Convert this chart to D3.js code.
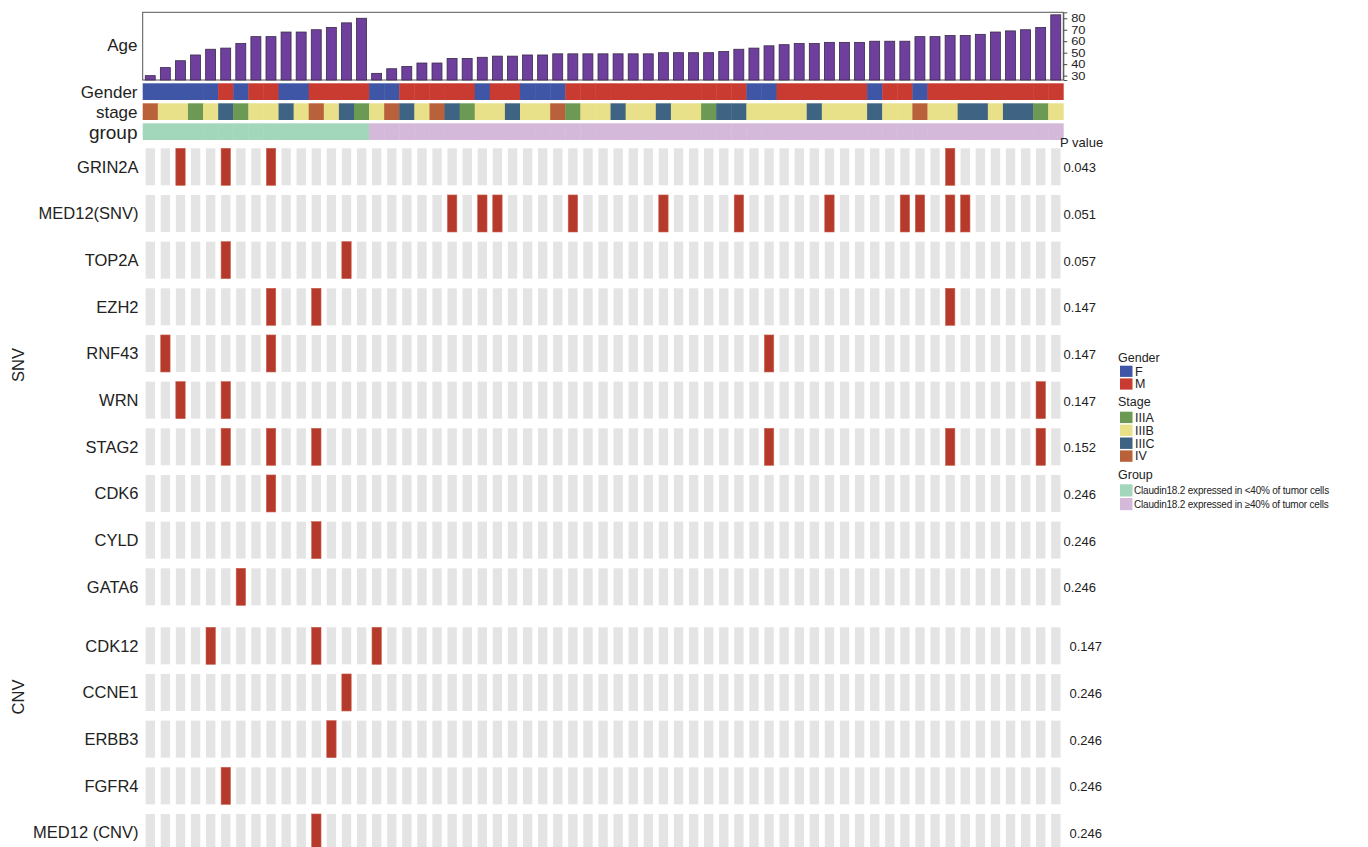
<!DOCTYPE html>
<html>
<head>
<meta charset="utf-8">
<script src="https://cdn.jsdelivr.net/npm/d3@7"></script>
<style>
  body { margin: 0; background: #fff; }
  svg { display: block; font-family: "Liberation Sans", Arial, Helvetica, sans-serif; }
</style>
</head>
<body>
<div id="chart"></div>
<script>
// oncoprint: Claudin18.2 groups vs SNV / CNV

// ---- data ----
var ages = [30, 37, 43, 48, 53, 54, 58, 64, 64, 68, 68, 70, 72, 76, 80,
            32, 36, 38, 41, 41, 45, 45, 46, 47, 47, 48, 48, 49, 49, 49,
            49, 49, 49, 49, 50, 50, 50, 50, 51, 53, 54, 56, 57, 58, 58,
            59, 59, 59, 60, 60, 60, 64, 64, 65, 65, 66, 68, 69, 70, 72, 83];

// one letter per patient
var genders = ("FFFFFMFMMFFMMMM" +
               "FFMMMMMFMMFFF" + "MMMMMMMMMMMM" + "FFMMMMMMFMMF" + "MMMMMMMMM").split("");

var stages = ["IV", "IIIB", "IIIB", "IIIA", "IIIB", "IIIC", "IIIA", "IIIB", "IIIB", "IIIC",
              "IIIB", "IV", "IIIB", "IIIC", "IIIA",
              "IIIB", "IV", "IIIC", "IIIB", "IV", "IIIC", "IIIA", "IIIB", "IIIB", "IIIC",
              "IIIB", "IIIB", "IV", "IIIA", "IIIB", "IIIB", "IIIC", "IIIB", "IIIB", "IIIC",
              "IIIB", "IIIB", "IIIA", "IIIC", "IIIC", "IIIB", "IIIB", "IIIB", "IIIB", "IIIC",
              "IIIB", "IIIB", "IIIB", "IIIC", "IIIB", "IIIB", "IV", "IIIB", "IIIB", "IIIC",
              "IIIC", "IIIB", "IIIC", "IIIC", "IIIA", "IIIB"];

var groupSizes = [15, 46];   // <40% , >=40%

var snvGenes = ["GRIN2A", "MED12(SNV)", "TOP2A", "EZH2", "RNF43", "WRN", "STAG2", "CDK6", "CYLD", "GATA6"];
var snvP     = ["0.043", "0.051", "0.057", "0.147", "0.147", "0.147", "0.152", "0.246", "0.246", "0.246"];
var snvHits  = [[3, 6, 9, 54],
                [21, 23, 24, 29, 35, 40, 46, 51, 52, 54, 55],
                [6, 14],
                [9, 12, 54],
                [2, 9, 42],
                [3, 6, 60],
                [6, 9, 12, 42, 54, 60],
                [9],
                [12],
                [7]];

var cnvGenes = ["CDK12", "CCNE1", "ERBB3", "FGFR4", "MED12 (CNV)"];
var cnvP     = ["0.147", "0.246", "0.246", "0.246", "0.246"];
var cnvHits  = [[5, 12, 16], [14], [13], [6], [12]];

var ageTicks = [30, 40, 50, 60, 70, 80];

var genderLabels = ["F", "M"];
var stageLabels = ["IIIA", "IIIB", "IIIC", "IV"];
var groupLabels = ["Claudin18.2 expressed in <40% of tumor cells",
                   "Claudin18.2 expressed in \u226540% of tumor cells"];

// ---- colours ----
var genderColor = d3.scaleOrdinal().domain(genderLabels).range(["#3f56a6", "#c93a30"]);
var stageColor = d3.scaleOrdinal().domain(stageLabels).range(["#6c9a55", "#e9e08a", "#3f6382", "#b9613a"]);
var groupColor = d3.scaleOrdinal().domain(groupLabels).range(["#a2d7bb", "#d4b9db"]);

var width = 1368, height = 847;

var samples = ages.map(function(d, i) { return "S" + (i + 1); });
var groups = [];
groupSizes.forEach(function(n, gi) { for (var k = 0; k < n; k++) groups.push(groupLabels[gi]); });

var svg = d3.select("#chart").append("svg")
    .attr("width", width)
    .attr("height", height);

/* scales */
var x = d3.scaleBand().domain(samples).range([142.7, 1063.3]);
var bw = x.bandwidth();
var yAge = d3.scaleLinear().domain([26.2, 85.2]).range([80, 12.3]);

var ySnv = d3.scaleBand().domain(snvGenes).range([148.3, 605.3]).paddingInner(0.207);
var yCnv = d3.scaleBand().domain(cnvGenes).range([627.3, 851]).paddingInner(0.207);

/* Age barplot */
svg.append("rect")
    .attr("x", x.range()[0]).attr("y", 12.3)
    .attr("width", x.range()[1] - x.range()[0]).attr("height", 80 - 12.3)
    .attr("fill", "none").attr("stroke", "#555").attr("stroke-width", 1);

svg.append("g").selectAll("rect")
    .data(ages)
    .enter().append("rect")
    .attr("x", function(d, i) { return x(samples[i]) + bw * 0.17; })
    .attr("y", function(d) { return yAge(d); })
    .attr("width", bw * 0.66)
    .attr("height", function(d) { return yAge.range()[0] - yAge(d); })
    .attr("fill", "#6f3f9e")
    .attr("stroke", "#3a2a48")
    .attr("stroke-width", 0.8);

var ageAxis = svg.append("g")
    .attr("transform", "translate(" + x.range()[1] + ",0)")
    .call(d3.axisRight(yAge).tickValues(ageTicks).tickSize(4).tickPadding(3));
ageAxis.select(".domain").attr("stroke", "#555");
ageAxis.selectAll("line").attr("stroke", "#444");
ageAxis.selectAll("text").attr("font-size", 11.5).attr("fill", "#222")
    .attr("font-family", "'Liberation Sans', Arial, sans-serif")
    .attr("transform", "scale(1.12,1)");

/* annotation tracks */
function track(values, color, y0, h) {
    svg.append("g").selectAll("rect")
        .data(values)
        .enter().append("rect")
        .attr("x", function(d, i) { return x(samples[i]); })
        .attr("y", y0)
        .attr("width", bw + 0.4)
        .attr("height", h)
        .attr("fill", function(d) { return color(d); });
}
track(genders, genderColor, 83.3, 16.7);
track(stages, stageColor, 103.3, 16.7);
track(groups, groupColor, 123.3, 16.7);

var annoLabels = [["Age", 45, 17], ["Gender", 92, 17], ["stage", 112, 17], ["group", 132, 19]];
svg.append("g").selectAll("text")
    .data(annoLabels)
    .enter().append("text")
    .attr("x", 137.5)
    .attr("y", function(d) { return d[1]; })
    .attr("dy", "0.35em")
    .attr("text-anchor", "end")
    .attr("font-size", function(d) { return d[2]; })
    .attr("fill", "#222")
    .text(function(d) { return d[0]; });

/* mutation matrix */
function matrix(genes, hits, pvals, y, pX) {
    var g = svg.append("g");
    genes.forEach(function(gene, gi) {
        g.append("g").selectAll("rect")
            .data(samples)
            .enter().append("rect")
            .attr("x", function(s) { return x(s) + bw * 0.195; })
            .attr("y", y(gene))
            .attr("width", bw * 0.62)
            .attr("height", y.bandwidth())
            .attr("fill", function(s, i) { return hits[gi].indexOf(i + 1) >= 0 ? "#b63a2b" : "#e4e4e4"; })
            .attr("stroke", function(s, i) { return hits[gi].indexOf(i + 1) >= 0 ? "#c9604f" : "none"; })
            .attr("stroke-width", 0.6);

        g.append("text")
            .attr("x", 138.5)
            .attr("y", y(gene) + y.bandwidth() / 2)
            .attr("dy", "0.35em")
            .attr("text-anchor", "end")
            .attr("font-size", 16.5)
            .attr("fill", "#222")
            .text(gene);

        g.append("text")
            .attr("x", pX)
            .attr("y", y(gene) + y.bandwidth() / 2 + 1)
            .attr("dy", "0.35em")
            .attr("font-size", 13)
            .attr("fill", "#222")
            .text(pvals[gi]);
    });
}
matrix(snvGenes, snvHits, snvP, ySnv, 1063.5);
matrix(cnvGenes, cnvHits, cnvP, yCnv, 1069.5);

svg.append("text")
    .attr("x", 1060).attr("y", 142).attr("dy", "0.35em")
    .attr("font-size", 13).attr("fill", "#222")
    .text("P value");

/* side labels */
[["SNV", 365], ["CNV", 697]].forEach(function(d) {
    svg.append("text")
        .attr("transform", "translate(18," + d[1] + ") rotate(-90)")
        .attr("dy", "0.35em")
        .attr("text-anchor", "middle")
        .attr("font-size", 16.5)
        .attr("fill", "#222")
        .text(d[0]);
});

/* legend */
var leg = svg.append("g").attr("transform", "translate(1118,0)");
function legendBlock(title, labels, color, yTitle, yFirst, step, fs) {
    leg.append("text")
        .attr("x", 0).attr("y", yTitle).attr("dy", "0.35em")
        .attr("font-size", 12.5).attr("fill", "#222")
        .text(title);
    labels.forEach(function(l, i) {
        leg.append("rect")
            .attr("x", 2).attr("y", yFirst + i * step)
            .attr("width", 12.5).attr("height", step - 1.5)
            .attr("fill", color(l));
        leg.append("text")
            .attr("x", fs > 11 ? 17 : 16).attr("y", yFirst + i * step + (step - 1.5) / 2)
            .attr("dy", "0.35em")
            .attr("font-size", fs).attr("fill", "#222")
            .attr("letter-spacing", fs > 11 ? 0 : -0.2)
            .text(l);
    });
}
legendBlock("Gender", genderLabels, genderColor, 358, 365.7, 12.7, 12.5);
legendBlock("Stage", stageLabels, stageColor, 401.7, 411.7, 12.9, 12.5);
legendBlock("Group", groupLabels, groupColor, 475, 484.3, 13.7, 10);
</script>
</body>
</html>
